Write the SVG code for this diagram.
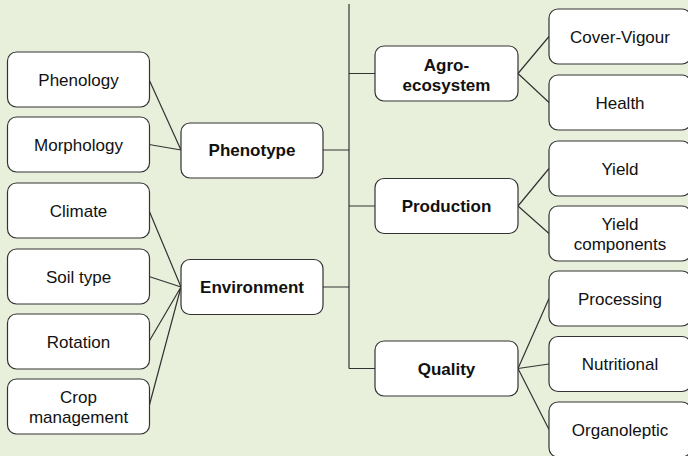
<svg xmlns="http://www.w3.org/2000/svg" width="688" height="456" viewBox="0 0 688 456">
<style>
.bg{fill:#e8f0dc}
.box{fill:#ffffff;stroke:#333333;stroke-width:1.2}
.t{font-family:"Liberation Sans",Arial,sans-serif;font-size:17px;fill:#111111;text-anchor:middle}
.b{font-weight:bold}
.c{stroke:#333333;stroke-width:1.2;fill:none}
</style>
<rect class="bg" x="0" y="0" width="688" height="456"/>
<g id="connectors">
<path class="c" d="M349,4 V368.5"/>
<path class="c" d="M323,150 H349 M323,287 H349 M349,73.5 H375 M349,206 H375 M349,368.5 H375"/>
<path class="c" d="M149,79.5 L181,150 M149,144.5 L181,150"/>
<path class="c" d="M149,210.5 L181,287 M149,276.5 L181,287 M149,341.5 L181,287 M149,406.5 L181,287"/>
<path class="c" d="M518,73.5 L549,36.5 M518,73.5 L549,102.5"/>
<path class="c" d="M518,206 L549,168.5 M518,206 L549,233.5"/>
<path class="c" d="M518,368.5 L549,298.5 M518,368.5 L549,364 M518,368.5 L549,429.5"/>
</g>
<g id="phenology"><rect class="box" x="7.5" y="52" width="142" height="55" rx="9"/><text class="t" x="78.5" y="85.5">Phenology</text></g>
<g id="morphology"><rect class="box" x="7.5" y="117" width="142" height="55" rx="9"/><text class="t" x="78.5" y="150.5">Morphology</text></g>
<g id="climate"><rect class="box" x="7.5" y="183" width="142" height="55" rx="9"/><text class="t" x="78.5" y="216.5">Climate</text></g>
<g id="soil-type"><rect class="box" x="7.5" y="249" width="142" height="55" rx="9"/><text class="t" x="78.5" y="282.5">Soil type</text></g>
<g id="rotation"><rect class="box" x="7.5" y="314" width="142" height="55" rx="9"/><text class="t" x="78.5" y="347.5">Rotation</text></g>
<g id="crop-management"><rect class="box" x="7.5" y="379" width="142" height="55" rx="9"/><text class="t" x="78.5" y="402.5">Crop</text><text class="t" x="78.5" y="423">management</text></g>
<g id="phenotype"><rect class="box" x="181" y="123" width="142" height="55" rx="9"/><text class="t b" x="252" y="156">Phenotype</text></g>
<g id="environment"><rect class="box" x="181" y="259.5" width="142" height="55" rx="9"/><text class="t b" x="252" y="293">Environment</text></g>
<g id="agro-ecosystem"><rect class="box" x="375" y="46" width="143" height="55" rx="9"/><text class="t b" x="446.5" y="71">Agro-</text><text class="t b" x="446.5" y="91">ecosystem</text></g>
<g id="production"><rect class="box" x="375" y="178.5" width="143" height="55" rx="9"/><text class="t b" x="446.5" y="212">Production</text></g>
<g id="quality"><rect class="box" x="375" y="341" width="143" height="55" rx="9"/><text class="t b" x="446.5" y="374.5">Quality</text></g>
<g id="cover-vigour"><rect class="box" x="549" y="9" width="142" height="55" rx="9"/><text class="t" x="620" y="42.5">Cover-Vigour</text></g>
<g id="health"><rect class="box" x="549" y="75" width="142" height="55" rx="9"/><text class="t" x="620" y="108.5">Health</text></g>
<g id="yield"><rect class="box" x="549" y="141" width="142" height="55" rx="9"/><text class="t" x="620" y="174.5">Yield</text></g>
<g id="yield-components"><rect class="box" x="549" y="206" width="142" height="55" rx="9"/><text class="t" x="620" y="229.5">Yield</text><text class="t" x="620" y="250">components</text></g>
<g id="processing"><rect class="box" x="549" y="271" width="142" height="55" rx="9"/><text class="t" x="620" y="304.5">Processing</text></g>
<g id="nutritional"><rect class="box" x="549" y="336.5" width="142" height="55" rx="9"/><text class="t" x="620" y="370">Nutritional</text></g>
<g id="organoleptic"><rect class="box" x="549" y="402" width="142" height="55" rx="9"/><text class="t" x="620" y="435.5">Organoleptic</text></g>
</svg>
